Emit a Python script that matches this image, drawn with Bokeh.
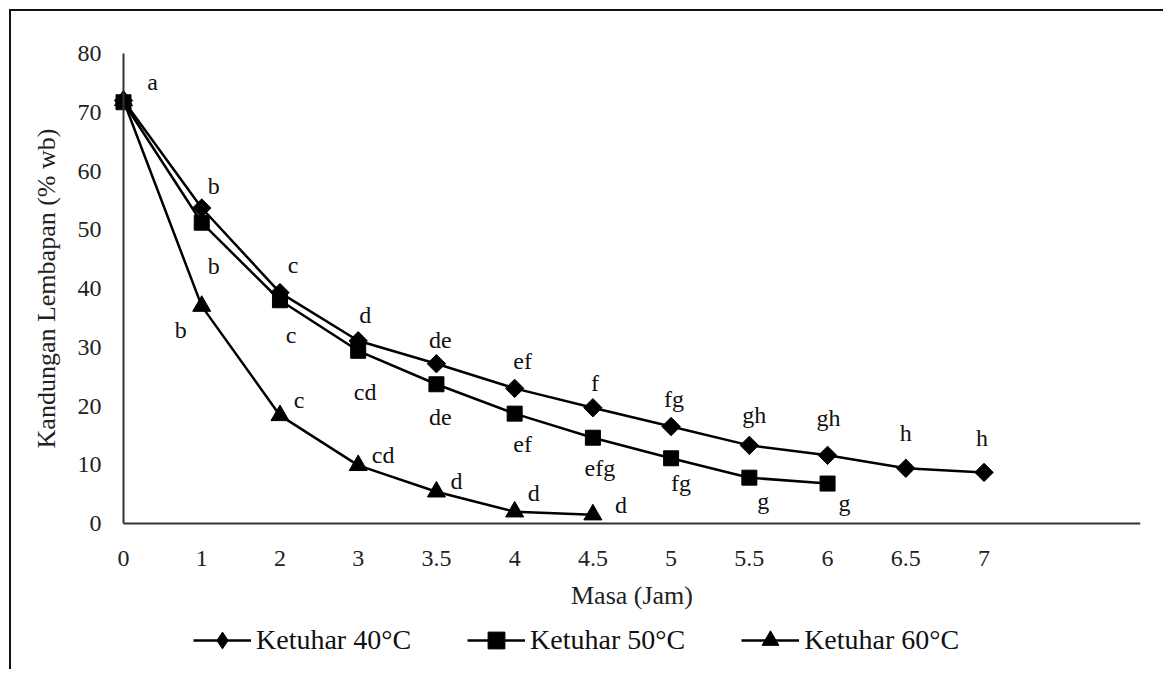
from bokeh.plotting import figure
from bokeh.models import Range1d, FixedTicker, Legend, LegendItem, ColumnDataSource
from bokeh.embed import file_html
from bokeh.resources import INLINE
from bokeh.core.properties import value
import math

# ---------------- data ----------------
time_labels = ["0", "1", "2", "3", "3.5", "4", "4.5", "5", "5.5", "6", "6.5", "7"]
y_ticks = [0, 10, 20, 30, 40, 50, 60, 70, 80]

series_names = ["Ketuhar 40°C", "Ketuhar 50°C", "Ketuhar 60°C"]
oven40 = [72.0, 53.7, 39.3, 31.1, 27.2, 23.0, 19.7, 16.5, 13.3, 11.6, 9.4, 8.7]
oven50 = [71.7, 51.2, 38.0, 29.4, 23.7, 18.7, 14.6, 11.1, 7.8, 6.8]
oven60 = [72.0, 37.0, 18.4, 9.9, 5.4, 2.0, 1.5]

letters40 = ["a", "b", "c", "d", "de", "ef", "f", "fg", "gh", "gh", "h", "h"]
letters50 = ["", "b", "c", "cd", "de", "ef", "efg", "fg", "g", "g"]
letters60 = ["", "b", "c", "cd", "d", "d", "d"]

# label offsets in screen pixels (dx, dy downward)
off40 = [(29, -19), (12, -22), (13, -28), (7, -26), (4, -24), (8, -27), (2, -25),
         (3, -28), (5, -30), (1, -37), (0, -35), (-2, -34)]
off50 = [(0, 0), (12, 43), (11, 35), (7, 41), (4, 33), (8, 30), (7, 30),
         (10, 25), (14, 23), (17, 19)]
off60 = [(0, 0), (-21, 24), (19, -15), (25, -10), (20, -11), (19, -19), (28, -10)]

FONT = "Liberation Serif"

# ---------------- geometry ----------------
W, H = 1154, 660
AXIS_TOP_PX = 42             # top of the y axis (value 80) from canvas top
TOP, RIGHT = 14, 25
AXIS_LEFT_PX = 112           # y axis distance from left canvas edge
X_MAX = 13.0
PX_X = (W - RIGHT - AXIS_LEFT_PX) / X_MAX
X_MIN = -AXIS_LEFT_PX / PX_X  # room left of the y axis for its labels
PX_Y = 470.0 / 80.0
Y_MAX = 80.0 + (AXIS_TOP_PX - TOP) / PX_Y
Y_MIN = -((H - AXIS_TOP_PX) - 470.0) / PX_Y  # room below the x axis

p = figure(width=W, height=H, output_backend="svg", toolbar_location=None,
           x_range=Range1d(X_MIN, X_MAX), y_range=Range1d(Y_MIN, Y_MAX),
           min_border_left=0, min_border_right=RIGHT, min_border_top=TOP,
           min_border_bottom=0)
p.styles = {"border-top": "2px solid #111", "border-left": "2px solid #111",
            "margin-left": "9px", "margin-top": "9px"}
p.outline_line_color = None
p.xgrid.grid_line_color = None
p.ygrid.grid_line_color = None
p.background_fill_color = "white"
p.border_fill_color = "white"

# axes
p.xaxis.ticker = FixedTicker(ticks=list(range(len(time_labels))))
p.xaxis.major_label_overrides = {i: t for i, t in enumerate(time_labels)}
p.xaxis.fixed_location = 0
p.xaxis.bounds = (0, X_MAX)
p.yaxis.ticker = FixedTicker(ticks=y_ticks)
p.yaxis.fixed_location = 0
p.yaxis.bounds = (0, 80)
for ax in (p.xaxis[0], p.yaxis[0]):
    ax.axis_line_color = "#333333"
    ax.axis_line_width = 2
    ax.major_tick_line_color = None
    ax.minor_tick_line_color = None
    ax.major_label_text_font = FONT
    ax.major_label_text_font_size = "24px"
    ax.major_label_text_color = "#222222"
    ax.axis_label_text_font = FONT
    ax.axis_label_text_font_size = "26px"
    ax.axis_label_text_font_style = "normal"
    ax.axis_label_text_color = "#222222"
p.xaxis.axis_label = "Masa (Jam)"
p.yaxis.axis_label = "Kandungan Lembapan (% wb)"
p.xaxis.major_label_standoff = 21
p.xaxis.axis_label_standoff = 12
p.yaxis.major_label_standoff = 16
p.yaxis.axis_label_standoff = 14

marker_specs = [
    dict(marker="square", size=13, angle=math.pi / 4, legend_marker="diamond"),
    dict(marker="square", size=15, angle=0.0, legend_marker="square"),
    dict(marker="triangle", size=18, angle=0.0, legend_marker="triangle"),
]
all_series = [oven40, oven50, oven60]
items = []
nan = float("nan")
legend_src = ColumnDataSource(dict(x=[nan], y=[nan]))  # draws nothing on the plot
for name, vals, spec in zip(series_names, all_series, marker_specs):
    src = ColumnDataSource(dict(x=list(range(len(vals))), y=vals))
    p.line("x", "y", source=src, line_color="black", line_width=2.5)
    p.scatter("x", "y", source=src, marker=spec["marker"], size=spec["size"],
              angle=spec["angle"], fill_color="black", line_color="black")
    # legend-only renderers so the legend shows the proper glyph
    lg_line = p.line("x", "y", source=legend_src, line_color="black", line_width=2.5)
    lg_mark = p.scatter("x", "y", source=legend_src, marker=spec["legend_marker"],
                        fill_color="black", line_color="black")
    items.append(LegendItem(label=name, renderers=[lg_line, lg_mark]))

# significance letters
for vals, letters, offs in zip(all_series, [letters40, letters50, letters60],
                               [off40, off50, off60]):
    xs, ys, ts, dxs, dys = [], [], [], [], []
    for i, (v, t, o) in enumerate(zip(vals, letters, offs)):
        if t == "":
            continue
        xs.append(i); ys.append(v); ts.append(t); dxs.append(o[0]); dys.append(o[1])
    src = ColumnDataSource(dict(x=xs, y=ys, t=ts, dx=dxs, dy=dys))
    p.text("x", "y", text="t", source=src, x_offset="dx", y_offset="dy",
           text_font=value(FONT), text_font_size="24px", text_color="#111111",
           text_align="center", text_baseline="middle")

legend = Legend(items=items, orientation="horizontal", location=(182, 10),
                glyph_width=58, glyph_height=42, label_standoff=5, spacing=56,
                padding=0, margin=0, border_line_color=None,
                background_fill_alpha=0.0,
                label_text_font=FONT, label_text_font_size="28px",
                label_text_color="#111111")
p.add_layout(legend, "center")

open("out.html", "w").write(file_html(p, INLINE))
